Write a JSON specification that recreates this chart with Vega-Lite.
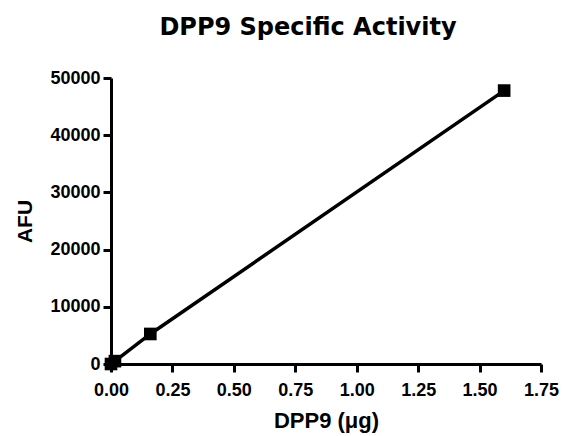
{
  "$schema": "https://vega.github.io/schema/vega-lite/v6.json",
  "autosize": "none",
  "padding": {"left": 111, "top": 78, "right": 22, "bottom": 72},
  "width": 430,
  "height": 286,
  "background": "white",
  "title": {
    "text": "DPP9 Specific Activity",
    "font": "DejaVu Sans",
    "fontSize": 24,
    "fontWeight": "bold",
    "color": "black",
    "anchor": "middle",
    "dx": -18,
    "offset": 29
  },
  "data": {
    "values": [
      {"dose": 0, "afu": 0},
      {"dose": 0.016, "afu": 500},
      {"dose": 0.16, "afu": 5250},
      {"dose": 1.6, "afu": 47800}
    ]
  },
  "encoding": {
    "x": {
      "field": "dose", "type": "quantitative",
      "scale": {"domain": [0, 1.75], "nice": false, "zero": false},
      "axis": {
        "title": "DPP9 (μg)", "values": [0, 0.25, 0.5, 0.75, 1, 1.25, 1.5, 1.75],
        "format": ".2f", "grid": false,
        "domainColor": "black", "domainWidth": 3, "tickColor": "black", "tickWidth": 3, "tickSize": 8,
        "labelFont": "Liberation Sans", "labelFontSize": 18, "labelFontWeight": "bold", "labelColor": "black", "labelPadding": 9,
        "labelFlush": false, "labelOverlap": false,
        "titleFont": "Liberation Sans", "titleFontSize": 22, "titleFontWeight": "bold", "titleColor": "black", "titlePadding": 11
      }
    },
    "y": {
      "field": "afu", "type": "quantitative",
      "scale": {"domain": [0, 50000], "nice": false},
      "axis": {
        "title": "AFU", "values": [0, 10000, 20000, 30000, 40000, 50000],
        "format": "d", "grid": false,
        "domainColor": "black", "domainWidth": 3, "tickColor": "black", "tickWidth": 3, "tickSize": 8,
        "labelFont": "Liberation Sans", "labelFontSize": 18, "labelFontWeight": "bold", "labelColor": "black", "labelPadding": 3,
        "labelFlush": false, "labelOverlap": false,
        "titleFont": "Liberation Sans", "titleFontSize": 21, "titleFontWeight": "bold", "titleColor": "black", "titlePadding": 14
      }
    }
  },
  "layer": [
    {"mark": {"type": "line", "color": "black", "strokeWidth": 3.5, "clip": false}},
    {"mark": {"type": "point", "shape": "square", "filled": true, "color": "black", "opacity": 1, "size": 160, "clip": false}}
  ],
  "config": {"view": {"stroke": null}}
}
